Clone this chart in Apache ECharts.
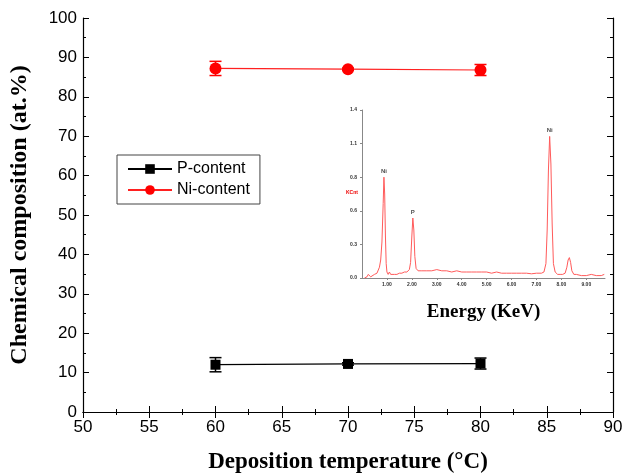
<!DOCTYPE html>
<html>
<head>
<meta charset="utf-8">
<script src="https://cdn.jsdelivr.net/npm/echarts@6/dist/echarts.min.js"></script>
<style>
  html, body { margin: 0; padding: 0; background: #fff; }
  #chart { width: 628px; height: 473px; }
</style>
</head>
<body>
<div id="chart"></div>
<script>
// main plot
const temps = [60, 70, 80];
const pContent = [12.0, 12.2, 12.3];
const pErr = [1.8, 0.3, 1.4];
const niContent = [87.2, 87.0, 86.8];
const niErr = [1.8, 0.3, 1.4];

// inset EDS spectrum (energy in KeV, counts in KCnt)
const specEnergy = [
  0.10, 0.20, 0.25, 0.30, 0.35, 0.40, 0.50, 0.55, 0.60, 0.65,
  0.70, 0.75, 0.80, 0.85, 0.88, 0.91, 0.94, 0.97, 1.00, 1.05,
  1.10, 1.15, 1.20, 1.30, 1.40, 1.50, 1.60, 1.70, 1.80, 1.90,
  1.95, 2.00, 2.04, 2.08, 2.12, 2.17, 2.25, 2.40, 2.60, 2.80,
  3.00, 3.20, 3.40, 3.60, 3.80, 4.00, 4.20, 4.40, 4.60, 4.80,
  5.00, 5.20, 5.40, 5.60, 5.80, 6.00, 6.20, 6.40, 6.60, 6.80,
  7.00, 7.20, 7.30, 7.38, 7.43, 7.48, 7.53, 7.58, 7.63, 7.68,
  7.75, 7.85, 7.95, 8.05, 8.15, 8.22, 8.27, 8.32, 8.37, 8.42,
  8.50, 8.60, 8.80, 9.00, 9.20, 9.40, 9.60, 9.72
];
const specCount = [
  0.00, 0.01, 0.03, 0.02, 0.01, 0.02, 0.03, 0.02, 0.04, 0.05,
  0.09, 0.15, 0.30, 0.62, 0.84, 0.70, 0.35, 0.12, 0.05, 0.03,
  0.05, 0.03, 0.02, 0.03, 0.03, 0.04, 0.04, 0.05, 0.05, 0.07,
  0.13, 0.35, 0.50, 0.40, 0.18, 0.08, 0.06, 0.06, 0.06, 0.06,
  0.07, 0.06, 0.06, 0.05, 0.06, 0.05, 0.05, 0.05, 0.05, 0.05,
  0.05, 0.04, 0.05, 0.04, 0.04, 0.04, 0.04, 0.04, 0.04, 0.035,
  0.04, 0.04, 0.05, 0.12, 0.40, 0.90, 1.18, 0.95, 0.45, 0.12,
  0.05, 0.03, 0.03, 0.03, 0.04, 0.09, 0.15, 0.17, 0.13, 0.06,
  0.03, 0.03, 0.02, 0.02, 0.03, 0.02, 0.02, 0.03
];
const peakLabels = [
  { name: 'Ni', energy: 0.88, count: 0.84 },
  { name: 'P', energy: 2.04, count: 0.50 },
  { name: 'Ni', energy: 7.53, count: 1.18 }
];

const chart = echarts.init(document.getElementById('chart'));

const numFont = 'Liberation Sans, Arial, sans-serif';
const serifFont = 'Liberation Serif, Times New Roman, serif';

function errorBars(vals, errs, color) {
  return {
    type: 'custom',
    xAxisIndex: 0,
    yAxisIndex: 0,
    silent: true,
    z: 3,
    renderItem: (params, api) => {
      const x = api.value(0);
      const top = api.coord([x, api.value(2)]);
      const bot = api.coord([x, api.value(1)]);
      const w = 6;
      const style = { stroke: color, lineWidth: 1.5 };
      return {
        type: 'group',
        children: [
          { type: 'line', shape: { x1: top[0], y1: top[1], x2: bot[0], y2: bot[1] }, style },
          { type: 'line', shape: { x1: top[0] - w, y1: top[1], x2: top[0] + w, y2: top[1] }, style },
          { type: 'line', shape: { x1: bot[0] - w, y1: bot[1], x2: bot[0] + w, y2: bot[1] }, style }
        ]
      };
    },
    data: temps.map((t, i) => [t, vals[i] - errs[i], vals[i] + errs[i]])
  };
}

const mainAxisCommon = {
  axisLine: { show: true, lineStyle: { color: '#000', width: 1.2 } },
  axisTick: { show: true, inside: true, length: 6, lineStyle: { color: '#000' } },
  minorTick: { show: true, splitNumber: 2, length: 3, lineStyle: { color: '#000' } },
  splitLine: { show: false },
  axisLabel: { color: '#000', fontSize: 17, fontFamily: numFont }
};

const option = {
  backgroundColor: '#fff',
  animation: false,
  grid: [
    { left: 83, right: 15, top: 18, bottom: 61, outerBoundsMode: 'none' },
    { left: 362, top: 110, width: 243, height: 168, outerBoundsMode: 'none' }
  ],
  graphic: [
    {
      type: 'text', left: 346, top: 190, silent: true,
      style: { text: 'KCnt', fill: '#e00', font: 'bold 5px ' + numFont }
    }
  ],
  legend: {
    left: 117,
    top: 155,
    orient: 'vertical',
    itemWidth: 44,
    itemHeight: 12,
    itemGap: 5,
    padding: [6, 10, 6, 10],
    borderColor: '#444',
    borderWidth: 1,
    borderRadius: 0,
    textStyle: { color: '#000', fontSize: 16, fontFamily: numFont },
    data: ['P-content', 'Ni-content']
  },
  xAxis: [
    Object.assign({}, mainAxisCommon, {
      type: 'value', gridIndex: 0, min: 50, max: 90, interval: 5,
      name: 'Deposition temperature (°C)', nameLocation: 'middle', nameGap: 39,
      nameTextStyle: { color: '#000', fontSize: 23, fontWeight: 'bold', fontFamily: serifFont },
      axisLabel: Object.assign({}, mainAxisCommon.axisLabel, { margin: 7 })
    }),
    Object.assign({}, mainAxisCommon, {
      type: 'value', gridIndex: 0, min: 50, max: 90, interval: 5, position: 'top',
      axisLabel: { show: false }
    }),
    {
      type: 'value', gridIndex: 1, min: 0, max: 9.75, interval: 1,
      axisLine: { show: true, lineStyle: { color: '#888', width: 1 } },
      axisTick: { show: true, length: 2, lineStyle: { color: '#888' } },
      splitLine: { show: false },
      axisLabel: {
        color: '#333', fontSize: 5, fontWeight: 'bold', fontFamily: numFont, margin: 4,
        showMinLabel: false, showMaxLabel: false,
        formatter: v => v.toFixed(2)
      },
      name: 'Energy (KeV)', nameLocation: 'middle', nameGap: 25,
      nameTextStyle: { color: '#000', fontSize: 19, fontWeight: 'bold', fontFamily: serifFont }
    }
  ],
  yAxis: [
    Object.assign({}, mainAxisCommon, {
      type: 'value', gridIndex: 0, min: 0, max: 100, interval: 10,
      name: 'Chemical composition (at.%)', nameLocation: 'middle', nameGap: 51,
      nameTextStyle: { color: '#000', fontSize: 24, fontWeight: 'bold', fontFamily: serifFont },
      axisLabel: Object.assign({}, mainAxisCommon.axisLabel, { margin: 6 })
    }),
    Object.assign({}, mainAxisCommon, {
      type: 'value', gridIndex: 0, min: 0, max: 100, interval: 10, position: 'right',
      axisLabel: { show: false }
    }),
    {
      type: 'value', gridIndex: 1, min: 0, max: 1.4, interval: 0.28,
      axisLine: { show: true, lineStyle: { color: '#888', width: 1 } },
      axisTick: { show: true, length: 2, lineStyle: { color: '#888' } },
      splitLine: { show: false },
      axisLabel: {
        color: '#333', fontSize: 5, fontWeight: 'bold', fontFamily: numFont, margin: 5,
        formatter: v => v.toFixed(1)
      }
    }
  ],
  series: [
    {
      name: 'P-content',
      type: 'line',
      xAxisIndex: 0, yAxisIndex: 0,
      symbol: 'rect', symbolSize: 10,
      itemStyle: { color: '#000' },
      lineStyle: { color: '#000', width: 1.2 },
      data: temps.map((t, i) => [t, pContent[i]]),
      z: 4
    },
    {
      name: 'Ni-content',
      type: 'line',
      xAxisIndex: 0, yAxisIndex: 0,
      symbol: 'circle', symbolSize: 12,
      itemStyle: { color: '#ff0000' },
      lineStyle: { color: '#ff2020', width: 1.2 },
      data: temps.map((t, i) => [t, niContent[i]]),
      z: 4
    },
    errorBars(pContent, pErr, '#000'),
    errorBars(niContent, niErr, '#ff0000'),
    {
      type: 'line',
      xAxisIndex: 2, yAxisIndex: 2,
      showSymbol: false,
      silent: true,
      lineStyle: { color: '#ff5a5a', width: 1 },
      data: specEnergy.map((e, i) => [e, specCount[i]])
    },
    {
      type: 'scatter',
      xAxisIndex: 2, yAxisIndex: 2,
      symbolSize: 0,
      silent: true,
      label: {
        show: true, position: 'top', distance: 3,
        color: '#222', fontSize: 6, fontWeight: 'bold', fontFamily: numFont,
        formatter: p => p.data.name
      },
      data: peakLabels.map(p => ({ name: p.name, value: [p.energy, p.count] }))
    }
  ]
};

chart.setOption(option);
</script>
</body>
</html>
